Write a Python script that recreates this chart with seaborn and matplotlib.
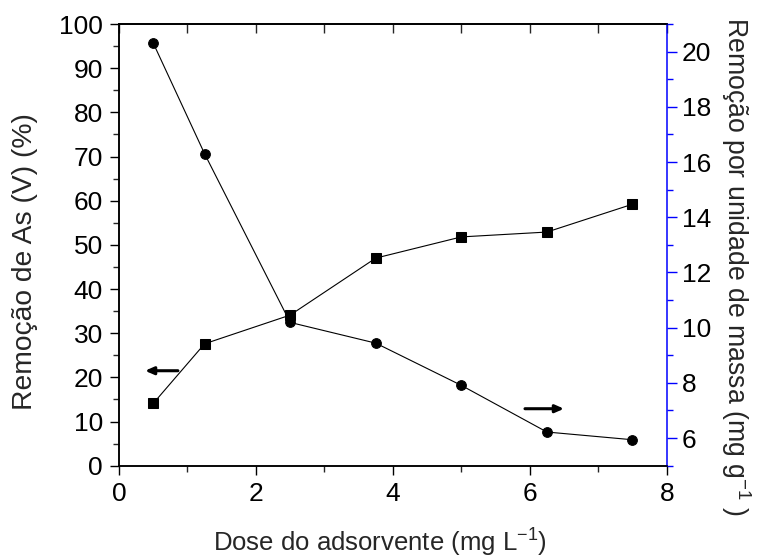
import matplotlib
matplotlib.use("Agg")
import matplotlib.pyplot as plt
from matplotlib.ticker import MultipleLocator
import seaborn as sns
import pandas as pd

dose = [0.5, 1.25, 2.5, 3.75, 5.0, 6.25, 7.5]
remocao_pct = [14.1, 27.6, 34.1, 47.0, 51.8, 52.9, 59.2]
remocao_massa = [20.31, 16.30, 10.19, 9.44, 7.91, 6.22, 5.94]

sns.set_style("ticks")
plt.rcParams['font.family'] = ['Liberation Sans', 'DejaVu Sans']
plt.rcParams['mathtext.fontset'] = 'custom'
plt.rcParams['mathtext.rm'] = 'Liberation Sans'
plt.rcParams['mathtext.it'] = 'Liberation Sans:italic'

df = pd.DataFrame({"dose": dose, "pct": remocao_pct, "massa": remocao_massa})

fig = plt.figure(figsize=(7.59, 5.6), dpi=100)
ax = fig.add_axes([0.1568, 0.1684, 0.8784 - 0.1568, 0.9571 - 0.1684])

sns.lineplot(data=df, x="dose", y="pct", ax=ax, color="black", linewidth=0.8,
             marker="s", markersize=6.5, markeredgecolor="black", markerfacecolor="black")
ax2 = ax.twinx()
sns.lineplot(data=df, x="dose", y="massa", ax=ax2, color="black", linewidth=0.8,
             marker="o", markersize=7, markeredgecolor="black", markerfacecolor="black")

ax.set_xlim(0, 8)
ax.set_ylim(0, 100)
ax2.set_ylim(5, 21)

ax.xaxis.set_major_locator(MultipleLocator(2))
ax.xaxis.set_minor_locator(MultipleLocator(1))
ax.yaxis.set_major_locator(MultipleLocator(10))
ax.yaxis.set_minor_locator(MultipleLocator(5))
ax2.yaxis.set_major_locator(MultipleLocator(2))
ax2.yaxis.set_minor_locator(MultipleLocator(1))

for a in (ax, ax2):
    for s in a.spines.values():
        s.set_linewidth(1.1)
        s.set_color("black")
ax.spines['right'].set_visible(False)
ax2.spines['right'].set_color("blue")

ax.tick_params(axis='both', which='major', direction='out', length=6.5, width=1.0,
               labelsize=19, pad=5, colors='black')
ax.tick_params(axis='both', which='minor', direction='out', length=4, width=1.0)
ax.tick_params(axis='y', right=False, which='both')
ax2.tick_params(axis='y', which='major', direction='out', length=7, width=1.0,
                labelsize=19, pad=4, color='blue', labelcolor='black')
ax2.tick_params(axis='y', which='minor', direction='out', length=4, width=1.0, color='blue')

top = ax.secondary_xaxis('top')
top.set_xticks(range(0, 9))
top.tick_params(direction='in', length=6.5, width=1.0, labeltop=False)
top.spines['top'].set_linewidth(1.1)

ax.set_xlabel("Dose do adsorvente (mg L$^{-1}$)", fontsize=18.5)
ax.set_ylabel("Remoção de As (V) (%)", fontsize=20.3)
ax2.set_ylabel("Remoção por unidade de massa (mg g$^{-1}$ )", fontsize=19.2,
               rotation=270, va='center')
ax.xaxis.set_label_coords(0.5, (560 - 543) / 560, transform=fig.transFigure)
ax.yaxis.set_label_coords(25 / 759, 1 - 262 / 560, transform=fig.transFigure)
ax2.yaxis.set_label_coords(736 / 759, 1 - 267 / 560, transform=fig.transFigure)
ax.xaxis.label.set_va('center')
ax.yaxis.label.set_va('center')

ax.annotate("", xy=(0.38, 21.5), xytext=(0.86, 21.5),
            arrowprops=dict(arrowstyle="-|>,head_length=0.5,head_width=0.22",
                            color="black", lw=2.2, shrinkA=0, shrinkB=0))
ax.annotate("", xy=(6.5, 12.9), xytext=(5.93, 12.9),
            arrowprops=dict(arrowstyle="-|>,head_length=0.5,head_width=0.22",
                            color="black", lw=2.2, shrinkA=0, shrinkB=0))

fig.savefig("out.png", dpi=100)
